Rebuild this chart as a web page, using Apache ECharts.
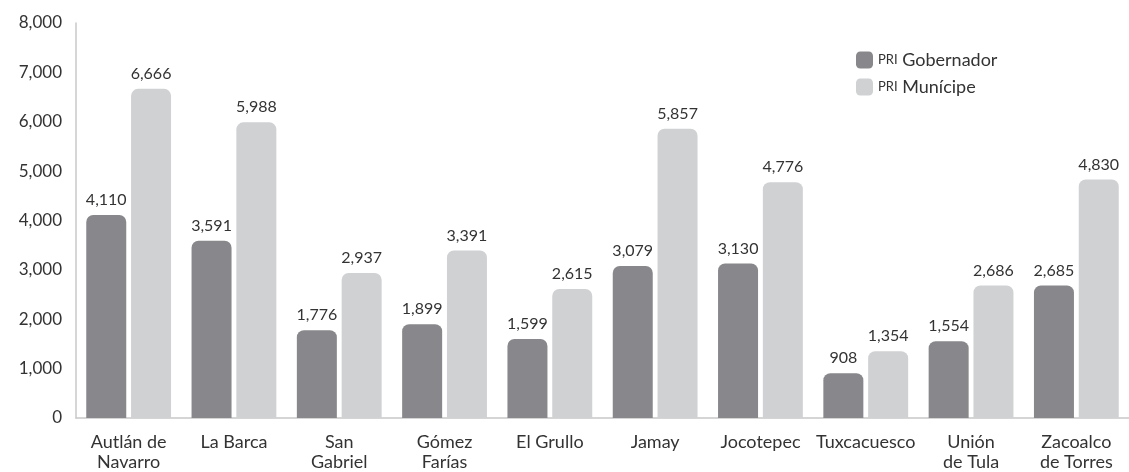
<!DOCTYPE html>
<html>
<head>
<meta charset="utf-8">
<script src="https://cdn.jsdelivr.net/npm/echarts@6/dist/echarts.min.js"></script>
<style>
  html, body { margin: 0; padding: 0; background: #fff; }
  #chart { width: 1129px; height: 472px; }
</style>
</head>
<body>
<div id="chart"></div>
<script>
  var categories = ['Autlán de\nNavarro', 'La Barca', 'San\nGabriel', 'Gómez\nFarías', 'El Grullo',
    'Jamay', 'Jocotepec', 'Tuxcacuesco', 'Unión\nde Tula', 'Zacoalco\nde Torres'];
  var gobernador = [4110, 3591, 1776, 1899, 1599, 3079, 3130, 908, 1554, 2685];
  var municipe = [6666, 5988, 2937, 3391, 2615, 5857, 4776, 1354, 2686, 4830];

  var font = 'Lato';
  var fmt = function (v) { return v.toLocaleString('en-US'); };

  var myChart = echarts.init(document.getElementById('chart'));
  myChart.setOption({
    animation: false,
    textStyle: { fontFamily: font },
    grid: { left: 76, right: -2, top: 23, bottom: 54 },
    legend: {
      orient: 'vertical',
      left: 851,
      top: 46,
      itemWidth: 17,
      itemHeight: 17,
      itemGap: 9,
      icon: 'roundRect',
      data: ['PRI Gobernador', 'PRI Munícipe'],
      formatter: function (name) {
        return '{sc|PRI} ' + name.replace('PRI ', '');
      },
      textStyle: {
        fontFamily: font,
        fontSize: 18,
        color: '#333',
        rich: { sc: { fontSize: 13, color: '#333', fontFamily: font } }
      }
    },
    xAxis: {
      type: 'category',
      data: categories,
      axisLine: { lineStyle: { color: '#c8c8c8', width: 1.5 } },
      axisTick: { show: false },
      axisLabel: { fontSize: 18, color: '#333', lineHeight: 20, margin: 14, interval: 0 }
    },
    yAxis: {
      type: 'value',
      min: 0,
      max: 8000,
      interval: 1000,
      axisLine: { show: true, lineStyle: { color: '#c8c8c8', width: 1.5 } },
      axisTick: { show: false },
      splitLine: { show: false },
      axisLabel: { fontSize: 17, color: '#333', margin: 14, formatter: fmt }
    },
    series: [
      {
        name: 'PRI Gobernador',
        type: 'bar',
        data: gobernador,
        barWidth: 40,
        barGap: '12%',
        itemStyle: { color: '#88888c', borderRadius: [7, 7, 0, 0] },
        label: { show: true, position: 'top', distance: 7, fontSize: 16, color: '#333',
          formatter: function (p) { return fmt(p.value); } }
      },
      {
        name: 'PRI Munícipe',
        type: 'bar',
        data: municipe,
        barWidth: 40,
        itemStyle: { color: '#d0d1d3', borderRadius: [7, 7, 0, 0] },
        label: { show: true, position: 'top', distance: 7, fontSize: 16, color: '#333',
          formatter: function (p) { return fmt(p.value); } }
      }
    ]
  });
</script>
</body>
</html>
